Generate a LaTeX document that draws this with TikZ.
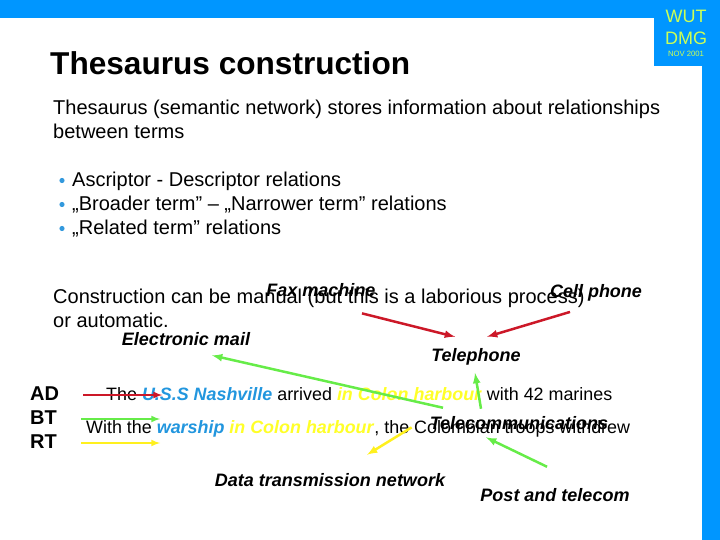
\documentclass[tikz,border=0pt]{standalone}
\usepackage{fontspec}
\setmainfont{Liberation Sans}
\usetikzlibrary{positioning}

\definecolor{wutblue}{RGB}{0,150,255}
\definecolor{wutyellow}{RGB}{204,255,85}
\definecolor{bulletblue}{RGB}{51,153,221}
\definecolor{shipblue}{RGB}{34,150,222}
\definecolor{harbouryellow}{RGB}{255,255,40}
\definecolor{adred}{RGB}{204,24,40}
\definecolor{btgreen}{RGB}{102,236,72}
\definecolor{rtyellow}{RGB}{255,240,30}

\newcommand{\termhl}[2]{\textcolor{#1}{\textbf{\textit{#2}}}}

\tikzset{>=latex,
    bodytext/.style={inner sep=0pt, anchor=base west, align=left, font=\fontsize{20}{24}\selectfont},
    termtext/.style={inner sep=0pt, anchor=base, font=\fontsize{18}{20}\selectfont\bfseries\itshape},
    sampletext/.style={inner sep=0pt, anchor=base west, font=\fontsize{17.9}{20}\selectfont},
    reltext/.style={inner sep=0pt, anchor=base west, font=\fontsize{20}{20}\selectfont\bfseries},
    relarrow/.style={->, line width=2.5pt},
    keyarrow/.style={->, line width=2pt}
}

\begin{document}
\begin{tikzpicture}[x=1pt, y=-1pt]
    \useasboundingbox (0,0) rectangle (720,540);

    % frame
    \fill[wutblue] (0,0) rectangle (720,18);
    \fill[wutblue] (654,0) rectangle (720,66);
    \fill[wutblue] (702,0) rectangle (720,540);
    \node[inner sep=0pt, anchor=base, text=wutyellow, font=\fontsize{18}{18}\selectfont] (wut) at (686,23) {WUT};
    \node[inner sep=0pt, anchor=base, text=wutyellow, font=\fontsize{18}{18}\selectfont] (dmg) at (686,45) {DMG};
    \node[inner sep=0pt, anchor=base, text=wutyellow, font=\fontsize{7.7}{8}\selectfont] (date) at (686,57) {NOV 2001};

    \node[inner sep=0pt, anchor=base west, font=\fontsize{31.6}{34}\selectfont\bfseries] (title) at (50,75) {Thesaurus construction};

    % base of a two line node is its last line
    \node[bodytext] (intro) at (53,139) {Thesaurus (semantic network) stores information about relationships\\between terms};

    \foreach \txt [count=\k] in {{Ascriptor - Descriptor relations},{„Broader term” – „Narrower term” relations},{„Related term” relations}}
    {
        \node[bodytext] (item\k) at (72,163+24*\k) {\txt};
        \fill[bulletblue] ([shift={(-10,-6.5)}]item\k.base west) circle [radius=2.6];
    }

    \node[bodytext] (constr) at (53,327) {Construction can be manual (but this is a laborious process)\\or automatic.};

    % relation key
    \node[reltext] (ad) at (30,400) {AD};
    \node[reltext] (bt) at (30,424) {BT};
    \node[reltext] (rt) at (30,448) {RT};

    \node[sampletext] (sentA) at (106,400) {The \termhl{shipblue}{U.S.S Nashville} arrived \termhl{harbouryellow}{in Colon harbour} with 42 marines};
    \node[sampletext] (sentB) at (86,433) {With the \termhl{shipblue}{warship} \termhl{harbouryellow}{in Colon harbour}, the Colombian troops withdrew};

    % terms
    \node[termtext] (fax) at (321,296) {Fax machine};
    \node[termtext] (cell) at (596,297) {Cell phone};
    \node[termtext] (email) at (186,345) {Electronic mail};
    \node[termtext] (tel) at (476,361) {Telephone};
    \node[termtext] (telecom) at (519,429) {Telecommunications};
    \node[termtext] (datanet) at (330,486) {Data transmission network};
    \node[termtext] (post) at (555,501) {Post and telecom};

    \draw[keyarrow, adred] ([shift={(24,-5)}]ad.base east) -- ++(79,0);
    \draw[keyarrow, btgreen] ([shift={(24,-5)}]bt.base east) -- ++(79,0);
    \draw[keyarrow, rtyellow] ([shift={(24,-5)}]rt.base east) -- ++(79,0);

    \draw[relarrow, adred] ([shift={(41,17)}]fax.south) -- ([shift={(-21,-11)}]tel.north);
    \draw[relarrow, adred] ([shift={(-26,11)}]cell.south) -- ([shift={(11,-11)}]tel.north);
    \draw[relarrow, btgreen] ([shift={(-76,-8)}]telecom.north) -- ([shift={(26,10)}]email.south);
    \draw[relarrow, btgreen] ([shift={(-38,-7)}]telecom.north) -- ([shift={(-1,8)}]tel.south);
    \draw[relarrow, btgreen] ([shift={(-8,-21)}]post.north) -- ([shift={(-33,8)}]telecom.south);
    \draw[relarrow, rtyellow] ([shift={(-18,-2)}]telecom.south west) -- ([shift={(37,-18)}]datanet.north);
\end{tikzpicture}
\end{document}
